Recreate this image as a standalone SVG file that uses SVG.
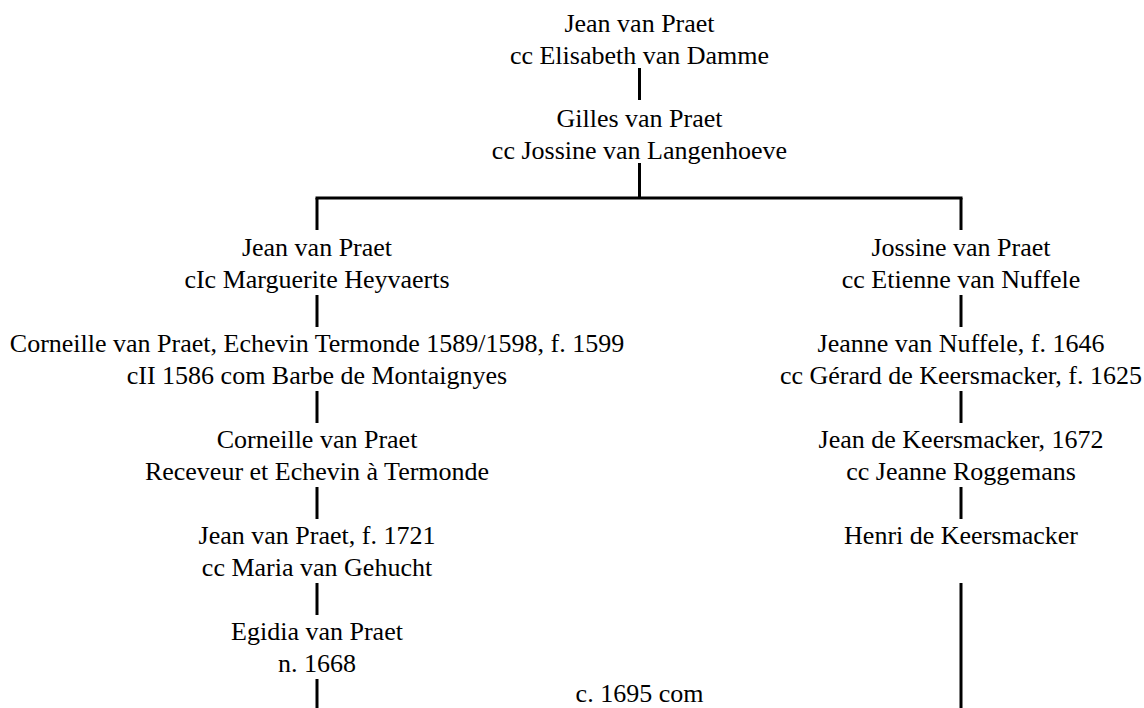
<svg xmlns="http://www.w3.org/2000/svg" width="1144" height="708" viewBox="0 0 1144 708">
<style>
text{font-family:"Liberation Serif","Times New Roman",serif;font-size:26px;fill:#000;text-anchor:middle}
.c line{stroke:#000;stroke-width:3;fill:none}
</style>
<rect width="1144" height="708" fill="#fff"/>
<g class="c" id="connectors">
<line x1="639.5" y1="68" x2="639.5" y2="100"/>
<line x1="639.5" y1="163" x2="639.5" y2="198"/>
<line x1="315.5" y1="198" x2="962.5" y2="198"/>
<line x1="317" y1="198" x2="317" y2="230"/>
<line x1="961" y1="198" x2="961" y2="230"/>
<line x1="317" y1="295" x2="317" y2="327"/>
<line x1="317" y1="391" x2="317" y2="423"/>
<line x1="317" y1="487" x2="317" y2="519"/>
<line x1="317" y1="583" x2="317" y2="615"/>
<line x1="317" y1="679" x2="317" y2="708"/>
<line x1="961" y1="295" x2="961" y2="327"/>
<line x1="961" y1="391" x2="961" y2="423"/>
<line x1="961" y1="487" x2="961" y2="519"/>
<line x1="961" y1="583" x2="961" y2="708"/>
</g>
<g id="n1"><text x="639.5" y="32">Jean van Praet</text><text x="639.5" y="64">cc Elisabeth van Damme</text></g>
<g id="n2"><text x="639.5" y="127">Gilles van Praet</text><text x="639.5" y="159">cc Jossine van Langenhoeve</text></g>
<g id="n3"><text x="317" y="256">Jean van Praet</text><text x="317" y="288">cIc Marguerite Heyvaerts</text></g>
<g id="n4"><text x="317" y="352">Corneille van Praet, Echevin Termonde 1589/1598, f. 1599</text><text x="317" y="384">cII 1586 com Barbe de Montaignyes</text></g>
<g id="n5"><text x="317" y="448">Corneille van Praet</text><text x="317" y="480">Receveur et Echevin à Termonde</text></g>
<g id="n6"><text x="317" y="544">Jean van Praet, f. 1721</text><text x="317" y="576">cc Maria van Gehucht</text></g>
<g id="n7"><text x="317" y="640">Egidia van Praet</text><text x="317" y="672">n. 1668</text></g>
<g id="n8"><text x="961" y="256">Jossine van Praet</text><text x="961" y="288">cc Etienne van Nuffele</text></g>
<g id="n9"><text x="961" y="352">Jeanne van Nuffele, f. 1646</text><text x="961" y="384">cc Gérard de Keersmacker, f. 1625</text></g>
<g id="n10"><text x="961" y="448">Jean de Keersmacker, 1672</text><text x="961" y="480">cc Jeanne Roggemans</text></g>
<g id="n11"><text x="961" y="544">Henri de Keersmacker</text></g>
<g id="n12"><text x="639.5" y="702">c. 1695 com</text></g>
</svg>
